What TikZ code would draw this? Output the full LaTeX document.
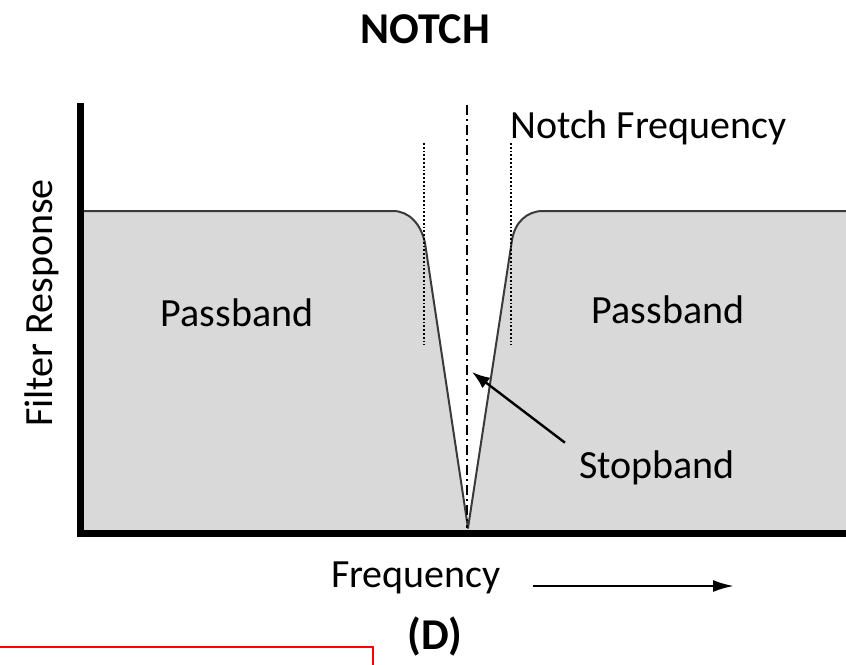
\documentclass[tikz,border=0pt]{standalone}
\usepackage{fontspec}
\setmainfont{Carlito}
\usetikzlibrary{arrows.meta}
\definecolor{bandfill}{HTML}{D9D9D9}
\definecolor{curveline}{HTML}{3A3A3A}
\tikzset{
  lbl/.style={inner sep=0pt, font=\fontsize{40}{48}\selectfont},
  boldlbl/.style={inner sep=0pt, font=\fontsize{44}{52}\selectfont\bfseries},
  axisline/.style={line width=7pt, black},
  guide/.style={line width=1.8pt, dotted, black},
  centerguide/.style={line width=1.6pt, dash pattern=on 10pt off 4pt on 2pt off 4pt, black},
  pointer/.style={line width=2.4pt, -{Latex[length=18pt,width=13pt]}},
  axispointer/.style={line width=2.4pt, -{Latex[length=21pt,width=12pt]}},
}
\begin{document}
\begin{tikzpicture}[x=1pt,y=-1pt]
\useasboundingbox (0,0) rectangle (846,664);
% filter response region
\fill[bandfill] (82,211) -- (393,211) .. controls (409,211) and (421,224) .. (425,243)
  -- (468,528) -- (512,240) .. controls (515,222) and (527,211) .. (543,211)
  -- (846,211) -- (846,531) -- (82,531) -- cycle;
\draw[curveline, line width=2pt, line join=round] (82,211) -- (393,211) .. controls (409,211) and (421,224) .. (425,243)
  -- (468,528) -- (512,240) .. controls (515,222) and (527,211) .. (543,211) -- (846,211);
% band edge markers and notch centre
\draw[guide] (424,143) -- (424,345);
\draw[guide] (511,143) -- (511,345);
\draw[centerguide] (467,105) -- (467,528);
% axes
\draw[axisline] (80,103) -- (80,533) -- (846,533);
% labels
\node[boldlbl] (title) at (425,29) {NOTCH};
\node[lbl, anchor=west] (notchf) at (510,128) {Notch Frequency};
\node[lbl] (passl) at (237,313) {Passband};
\node[lbl] (passr) at (668,310) {Passband};
\node[lbl] (stop) at (657,468) {Stopband};
\node[lbl, rotate=90] (yaxis) at (42,303) {Filter Response};
\node[lbl] (xaxis) at (416,578) {Frequency};
\node[boldlbl] (caption) at (435,636) {(D)};
% pointers
\coordinate (stoptip) at (472,372);
\draw[pointer] (stop.north west) ++(-14,-8) -- (stoptip);
\coordinate (fa) at (533,586);
\coordinate (fb) at (734,586);
\draw[axispointer] (fa) -- (fb);
% red frame corner
\draw[red, line width=1.5pt] (0,647) -- (373,647) -- (373,666);
\end{tikzpicture}
\end{document}
